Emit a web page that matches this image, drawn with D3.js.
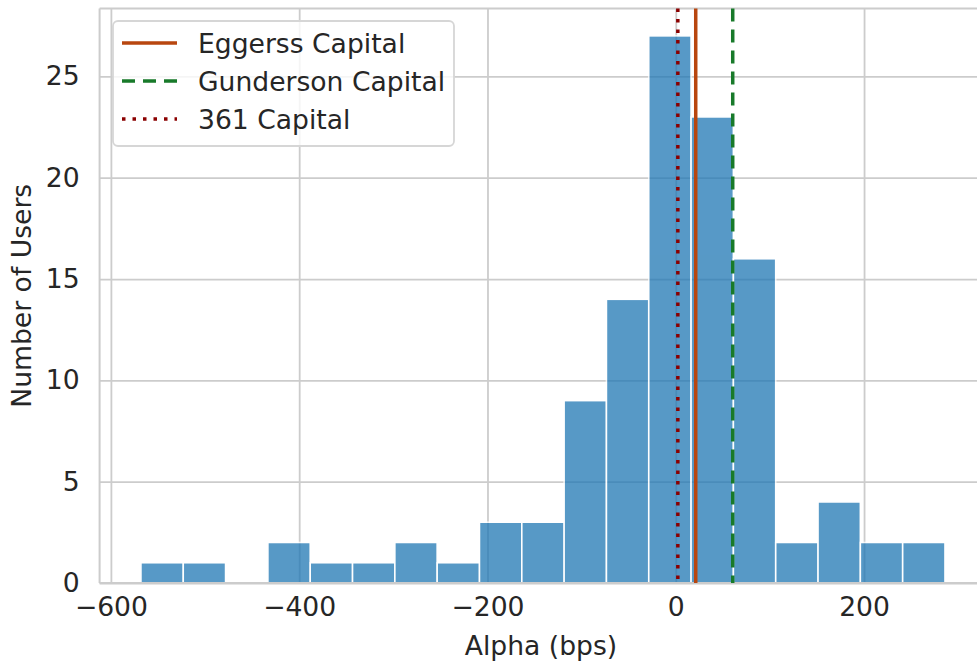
<!DOCTYPE html>
<html>
<head>
<meta charset="utf-8">
<script src="https://cdn.jsdelivr.net/npm/d3@7"></script>
<style>
  html, body { margin: 0; padding: 0; background: #ffffff; overflow: hidden; }
  svg { display: block; }
</style>
</head>
<body>
<svg id="chart" width="977" height="669"></svg>
<script>
// ---- data ----
const binStart = -568.1;
const binWidth = 44.95;
const binCounts = [1, 1, 0, 2, 1, 1, 2, 1, 3, 3, 9, 14, 27, 23, 16, 2, 4, 2, 2];
const xTicks = [-600, -400, -200, 0, 200];
const yTicks = [0, 5, 10, 15, 20, 25];
const firmNames = ["Eggerss Capital", "Gunderson Capital", "361 Capital"];
const firmAlpha = [21.2, 60.5, 2.2];
const firmColors = ["#b8460f", "#187a2a", "#8b0000"];
const firmDash = [null, "13,8", "3.5,7"];
const xLabel = "Alpha (bps)";
const yLabel = "Number of Users";

// ---- layout ----
const W = 977, H = 669;
const pL = 99.6, pR = 984, pT = 8.5, pB = 583;
const font = "'DejaVu Sans', sans-serif";
const fs = 26.6;
const textColor = "#262626";
const gridColor = "#cccccc";

const svg = d3.select("#chart");

const x = d3.scaleLinear().domain([-612, 327.4]).range([pL, pR]);
const y = d3.scaleLinear().domain([0, 28.35]).range([pB, pT]);

svg.append("defs").append("clipPath").attr("id", "plotclip")
  .append("rect").attr("x", pL).attr("y", pT).attr("width", pR - pL).attr("height", pB - pT);

// grid via axes
const gx = svg.append("g").attr("transform", `translate(0,${pB})`)
  .call(d3.axisBottom(x).tickValues(xTicks).tickSize(-(pB - pT)).tickFormat(d => String(d).replace("-", "\u2212")).tickPadding(14));
gx.select(".domain").remove();
gx.selectAll(".tick line").attr("stroke", gridColor).attr("stroke-width", 1.8);
gx.selectAll(".tick text").attr("font-family", font).attr("font-size", fs).attr("fill", textColor).attr("dy", "0.71em");

const gy = svg.append("g").attr("transform", `translate(${pL},0)`)
  .call(d3.axisLeft(y).tickValues(yTicks).tickSize(-(pR - pL)).tickPadding(20));
gy.select(".domain").remove();
gy.selectAll(".tick line").attr("stroke", gridColor).attr("stroke-width", 1.8);
gy.selectAll(".tick text").attr("font-family", font).attr("font-size", fs).attr("fill", textColor);

// bars
const bins = binCounts.map((c, i) => ({ x0: binStart + i * binWidth, x1: binStart + (i + 1) * binWidth, count: c }));
svg.append("g").attr("clip-path", "url(#plotclip)")
  .selectAll("rect").data(bins.filter(b => b.count > 0)).join("rect")
  .attr("x", d => x(d.x0))
  .attr("y", d => y(d.count))
  .attr("width", d => x(d.x1) - x(d.x0))
  .attr("height", d => y(0) - y(d.count))
  .attr("fill", "#1f77b4")
  .attr("stroke", "#ffffff")
  .attr("stroke-width", 1.6)
  .attr("opacity", 0.75);

// spines
const sp = svg.append("g").attr("stroke", gridColor).attr("stroke-width", 2).attr("fill", "none");
sp.append("line").attr("x1", pL).attr("x2", pL).attr("y1", pT).attr("y2", pB);
sp.append("line").attr("x1", pL).attr("x2", pR).attr("y1", pT).attr("y2", pT);
sp.append("line").attr("x1", pL).attr("x2", pR).attr("y1", pB).attr("y2", pB);
sp.append("line").attr("x1", pR).attr("x2", pR).attr("y1", pT).attr("y2", pB);

// vertical lines
svg.append("g").selectAll("line").data(firmNames.map((n, i) => i)).join("line")
  .attr("x1", i => x(firmAlpha[i])).attr("x2", i => x(firmAlpha[i]))
  .attr("y1", pT).attr("y2", pB)
  .attr("stroke", i => firmColors[i])
  .attr("stroke-width", 3.5)
  .attr("stroke-dasharray", i => firmDash[i]);

// axis labels
svg.append("text").attr("x", 541).attr("y", 655)
  .attr("text-anchor", "middle").attr("font-family", font).attr("font-size", fs).attr("fill", textColor)
  .text(xLabel);
svg.append("text").attr("transform", `translate(31,${(pT + pB) / 2}) rotate(-90)`)
  .attr("text-anchor", "middle").attr("font-family", font).attr("font-size", fs).attr("fill", textColor)
  .text(yLabel);

// legend
const lg = svg.append("g");
lg.append("rect").attr("x", 113).attr("y", 21).attr("width", 341).attr("height", 125)
  .attr("rx", 5).attr("fill", "#ffffff").attr("fill-opacity", 0.8)
  .attr("stroke", "#d6d6d6").attr("stroke-width", 1.8);
const rowY = [43, 81, 119];
firmNames.forEach((n, i) => {
  lg.append("line").attr("x1", 122).attr("x2", 177).attr("y1", rowY[i]).attr("y2", rowY[i])
    .attr("stroke", firmColors[i]).attr("stroke-width", 3.5).attr("stroke-dasharray", firmDash[i]);
  lg.append("text").attr("x", 198).attr("y", rowY[i]).attr("dy", "0.36em")
    .attr("font-family", font).attr("font-size", fs).attr("fill", textColor).text(n);
});
</script>
</body>
</html>
